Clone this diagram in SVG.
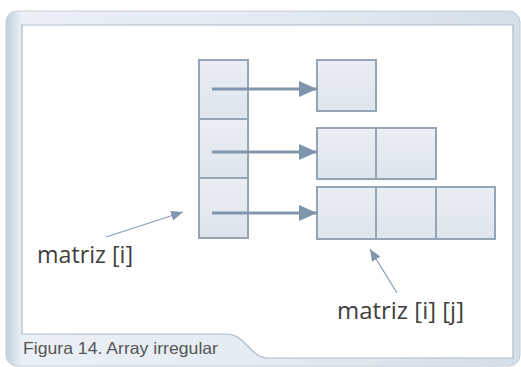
<svg xmlns="http://www.w3.org/2000/svg" width="521" height="367" viewBox="0 0 521 367">
<defs>
<linearGradient id="frame" x1="0" y1="0" x2="1" y2="0">
<stop offset="0" stop-color="#c3cfdc"/>
<stop offset="0.03" stop-color="#eaf0f5"/>
<stop offset="0.5" stop-color="#e4ebf2"/>
<stop offset="1" stop-color="#d5dfe9"/>
</linearGradient>
<linearGradient id="cell" x1="0" y1="0" x2="0" y2="1">
<stop offset="0" stop-color="#ebeff4"/>
<stop offset="1" stop-color="#dde4ec"/>
</linearGradient>
<marker id="big" viewBox="0 0 18 16" refX="18" refY="8" markerWidth="18" markerHeight="16" markerUnits="userSpaceOnUse" orient="auto">
<path d="M0,0 L18,8 L0,16 Z" fill="#7f95ac"/>
</marker>
<marker id="small" viewBox="0 0 12 10" refX="12" refY="5" markerWidth="12" markerHeight="10" markerUnits="userSpaceOnUse" orient="auto">
<path d="M0,0 L12,5 L0,10 Z" fill="#8197ae"/>
</marker>
</defs>
<style>
.c{fill:url(#cell);stroke:#95a5b6;stroke-width:2}
.a{stroke:#8297ad;stroke-width:3;fill:none}
.p{stroke:#8a9db1;stroke-width:1.2;fill:none}
.lbl{font-family:"Open Sans","DejaVu Sans",sans-serif;font-size:24px;fill:#3f3f3f}
.cap{font-family:"Liberation Sans",Arial,sans-serif;font-size:16.5px;fill:#555555}
</style>
<rect x="0" y="0" width="521" height="367" fill="#ffffff"/>
<rect x="6" y="11" width="514" height="355" rx="11" fill="url(#frame)" stroke="#c3ced9" stroke-width="1"/>
<path d="M22,25 H513 V358 H268 C250,358 246,334 226,334 H22 Z" fill="#ffffff" stroke="#aebbc8" stroke-width="1.2"/>
<g id="pointers">
<rect id="p0" class="c" x="199" y="60" width="49" height="59"/>
<rect id="p1" class="c" x="199" y="119" width="49" height="59"/>
<rect id="p2" class="c" x="199" y="178" width="49" height="60"/>
</g>
<g id="row0">
<rect class="c" x="317" y="60" width="59" height="51"/>
</g>
<g id="row1">
<rect class="c" x="317" y="128" width="59" height="51"/>
<rect class="c" x="376" y="128" width="60" height="51"/>
</g>
<g id="row2">
<rect class="c" x="317" y="187" width="59" height="52"/>
<rect class="c" x="376" y="187" width="60" height="52"/>
<rect class="c" x="436" y="187" width="59" height="52"/>
</g>
<g id="connectors">
<line class="a" x1="212" y1="89" x2="317" y2="89" marker-end="url(#big)"/>
<line class="a" x1="212" y1="152" x2="317" y2="152" marker-end="url(#big)"/>
<line class="a" x1="212" y1="213" x2="317" y2="213" marker-end="url(#big)"/>
<line class="p" x1="106" y1="237" x2="183" y2="212" marker-end="url(#small)"/>
<line class="p" x1="397" y1="293" x2="370" y2="249" marker-end="url(#small)"/>
</g>
<g id="labels">
<text class="lbl" x="37" y="263" textLength="96" lengthAdjust="spacingAndGlyphs">matriz [i]</text>
<text class="lbl" x="337" y="319" textLength="127" lengthAdjust="spacingAndGlyphs">matriz [i] [j]</text>
<text class="cap" x="23" y="354" textLength="195" lengthAdjust="spacingAndGlyphs">Figura 14. Array irregular</text>
</g>
</svg>
